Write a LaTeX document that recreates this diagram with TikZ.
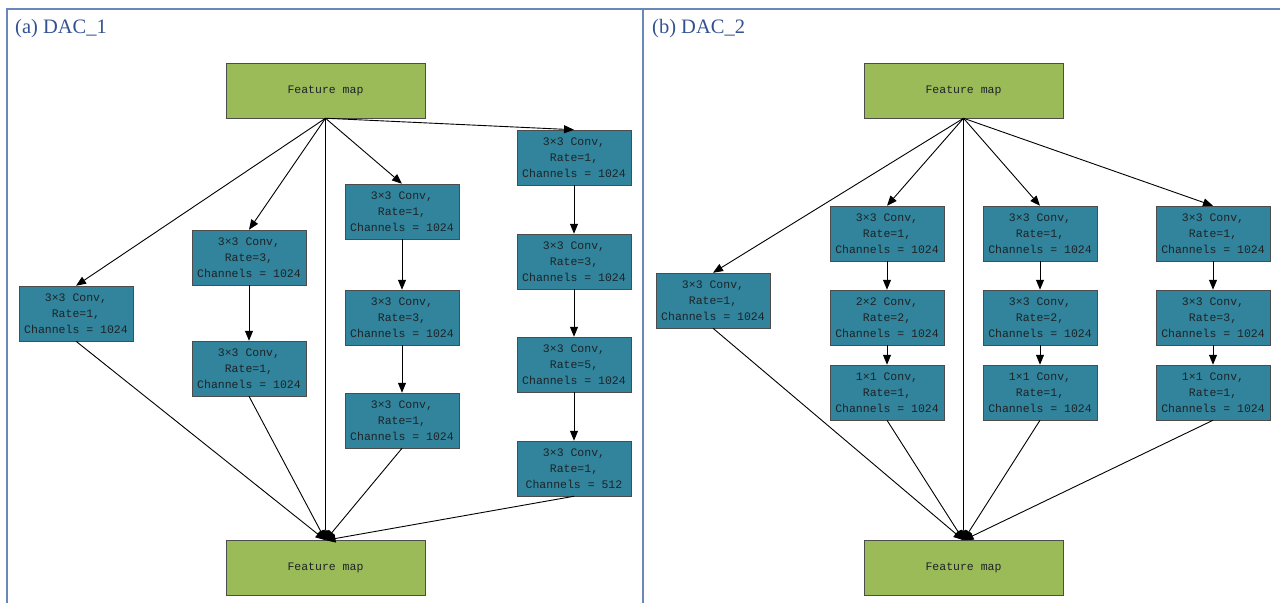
\documentclass[tikz,border=0pt]{standalone}
\usepackage{fontspec}
\setmainfont{Liberation Serif}
\newfontfamily\boxfont{Liberation Mono}
\usetikzlibrary{arrows.meta}
\definecolor{tealbox}{RGB}{49,132,155}
\definecolor{greenbox}{RGB}{155,187,89}
\definecolor{framecol}{RGB}{105,135,185}
\definecolor{titlecol}{RGB}{52,82,145}
\definecolor{boxtext}{RGB}{30,35,40}
\tikzset{
  conv/.style={draw=gray!60!black, line width=0.5pt, fill=tealbox, minimum width=114pt, minimum height=55pt, inner sep=0pt, align=center, font=\boxfont\fontsize{11.5}{16}\selectfont, text=boxtext},
  fmap/.style={draw=gray!60!black, line width=0.5pt, fill=greenbox, minimum width=199pt, minimum height=55pt, inner sep=0pt, align=center, font=\boxfont\fontsize{11.5}{16}\selectfont, text=boxtext},
  arr/.style={line width=0.9pt, -{Triangle[length=10pt,width=8pt]}},
  title/.style={anchor=base west, inner sep=0pt, text=titlecol, font=\fontsize{20.5}{24}\selectfont},
}
\begin{document}
\begin{tikzpicture}[x=1pt,y=-1pt]
\useasboundingbox (0,0) rectangle (1280,603);
% frames
\draw[framecol, line width=1.6pt] (7,603) -- (7,9) -- (1280,9);
\draw[framecol, line width=1.6pt] (643,9) -- (643,603);
\node[title] (ta) at (15,33) {(a) DAC\_1};
\node[title] (tb) at (652,33) {(b) DAC\_2};

% ---------- (a) ----------
\node[fmap] (fa) at (325.5,90.5) {Feature map};
\node[fmap] (fb) at (325.5,568) {Feature map};
\node[conv] (a1) at (76,313.5) {3×3 Conv,\\Rate=1,\\Channels = 1024};
\node[conv] (a21) at (249,257.5) {3×3 Conv,\\Rate=3,\\Channels = 1024};
\node[conv] (a22) at (249,368.5) {3×3 Conv,\\Rate=1,\\Channels = 1024};
\node[conv] (a31) at (402,211.5) {3×3 Conv,\\Rate=1,\\Channels = 1024};
\node[conv] (a32) at (402,317.5) {3×3 Conv,\\Rate=3,\\Channels = 1024};
\node[conv] (a33) at (402,420.5) {3×3 Conv,\\Rate=1,\\Channels = 1024};
\node[conv] (a41) at (574,157.5) {3×3 Conv,\\Rate=1,\\Channels = 1024};
\node[conv] (a42) at (574,261.5) {3×3 Conv,\\Rate=3,\\Channels = 1024};
\node[conv] (a43) at (574,364.5) {3×3 Conv,\\Rate=5,\\Channels = 1024};
\node[conv] (a44) at (574,468.5) {3×3 Conv,\\Rate=1,\\Channels = 512};

\draw[arr] (fa.south) -- (a1.north);
\draw[arr] (fa.south) -- (a21.north);
\draw[arr] (fa.south) -- (a31.north);
\draw[arr] (fa.south) -- (a41.north);
\draw[arr] (fa.south) -- (fb.north);
\draw[arr] (a21) -- (a22);
\draw[arr] (a31) -- (a32);
\draw[arr] (a32) -- (a33);
\draw[arr] (a41) -- (a42);
\draw[arr] (a42) -- (a43);
\draw[arr] (a43) -- (a44);
\draw[arr] (a1.south) -- (fb.north);
\draw[arr] (a22.south) -- (fb.north);
\draw[arr] (a33.south) -- (fb.north);
\draw[arr] (a44.south) -- (fb.north);

% ---------- (b) ----------
\node[fmap] (ga) at (963.5,90.5) {Feature map};
\node[fmap] (gb) at (963.5,568) {Feature map};
\node[conv] (b1) at (713,300.5) {3×3 Conv,\\Rate=1,\\Channels = 1024};
\node[conv] (b21) at (887,233.5) {3×3 Conv,\\Rate=1,\\Channels = 1024};
\node[conv] (b22) at (887,317.5) {2×2 Conv,\\Rate=2,\\Channels = 1024};
\node[conv] (b23) at (887,392.5) {1×1 Conv,\\Rate=1,\\Channels = 1024};
\node[conv] (b31) at (1040,233.5) {3×3 Conv,\\Rate=1,\\Channels = 1024};
\node[conv] (b32) at (1040,317.5) {3×3 Conv,\\Rate=2,\\Channels = 1024};
\node[conv] (b33) at (1040,392.5) {1×1 Conv,\\Rate=1,\\Channels = 1024};
\node[conv] (b41) at (1213,233.5) {3×3 Conv,\\Rate=1,\\Channels = 1024};
\node[conv] (b42) at (1213,317.5) {3×3 Conv,\\Rate=3,\\Channels = 1024};
\node[conv] (b43) at (1213,392.5) {1×1 Conv,\\Rate=1,\\Channels = 1024};

\draw[arr] (ga.south) -- (b1.north);
\draw[arr] (ga.south) -- (b21.north);
\draw[arr] (ga.south) -- (b31.north);
\draw[arr] (ga.south) -- (b41.north);
\draw[arr] (ga.south) -- (gb.north);
\draw[arr] (b21) -- (b22);
\draw[arr] (b22) -- (b23);
\draw[arr] (b31) -- (b32);
\draw[arr] (b32) -- (b33);
\draw[arr] (b41) -- (b42);
\draw[arr] (b42) -- (b43);
\draw[arr] (b1.south) -- (gb.north);
\draw[arr] (b23.south) -- (gb.north);
\draw[arr] (b33.south) -- (gb.north);
\draw[arr] (b43.south) -- (gb.north);
\end{tikzpicture}
\end{document}
